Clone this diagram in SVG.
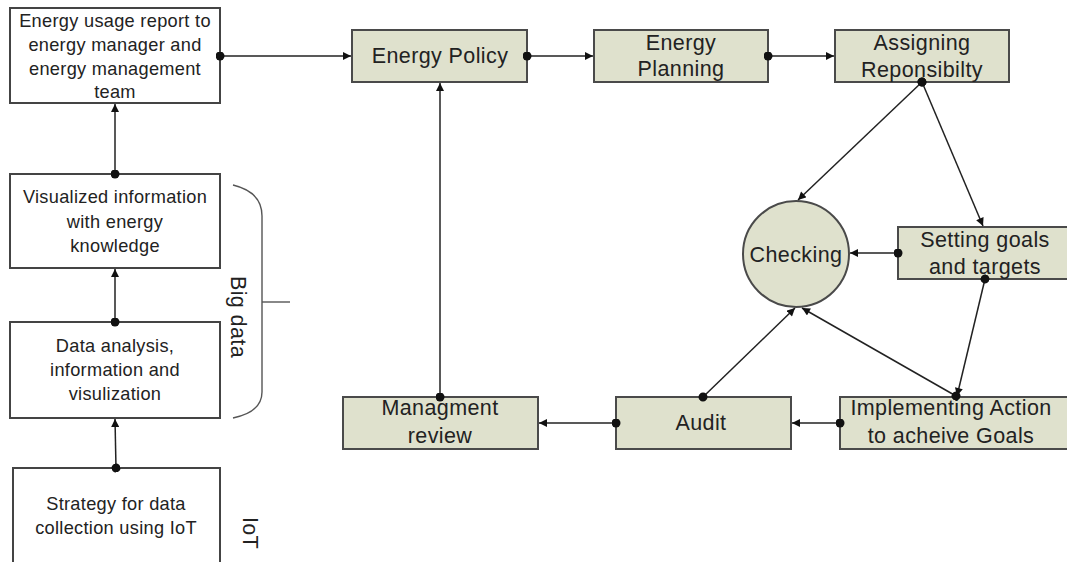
<svg xmlns="http://www.w3.org/2000/svg" width="1067" height="562" viewBox="0 0 1067 562">
  <defs>
    <style>
      .wbox { fill: #ffffff; stroke: #444444; stroke-width: 2; }
      .gbox { fill: #dfe1cd; stroke: #4a4a4a; stroke-width: 2; }
      .lt { font-family: "Liberation Sans", Arial, sans-serif; font-size: 18.2px; letter-spacing: 0.3px; fill: #222222; text-anchor: middle; }
      .gt { font-family: "Liberation Sans", Arial, sans-serif; font-size: 21.5px; letter-spacing: 0.4px; fill: #222222; text-anchor: middle; }
      .conn { fill: none; stroke: #222222; stroke-width: 1.5; marker-start: url(#dot); marker-end: url(#arrow); }
      .brace { fill: none; stroke: #555555; stroke-width: 1.4; }
    </style>
    <marker id="arrow" viewBox="0 0 10 10" refX="10" refY="5" markerWidth="9" markerHeight="8" markerUnits="userSpaceOnUse" orient="auto">
      <path d="M0,0 L10,5 L0,10 Z" fill="#111111"/>
    </marker>
    <marker id="dot" viewBox="0 0 10 10" refX="5" refY="5" markerWidth="9" markerHeight="9" markerUnits="userSpaceOnUse" orient="auto">
      <circle cx="5" cy="5" r="5" fill="#111111"/>
    </marker>
  </defs>

  <g id="node-report">
    <rect class="wbox" x="10" y="8" width="210" height="95"/>
    <text class="lt" x="115" y="27">Energy usage report to</text>
    <text class="lt" x="115" y="51">energy manager and</text>
    <text class="lt" x="115" y="75">energy management</text>
    <text class="lt" x="115" y="98">team</text>
  </g>
  <g id="node-visualized">
    <rect class="wbox" x="10" y="174" width="210" height="94"/>
    <text class="lt" x="115" y="203">Visualized information</text>
    <text class="lt" x="115" y="228">with energy</text>
    <text class="lt" x="115" y="252">knowledge</text>
  </g>
  <g id="node-analysis">
    <rect class="wbox" x="10" y="322" width="210" height="96"/>
    <text class="lt" x="115" y="352">Data analysis,</text>
    <text class="lt" x="115" y="376">information and</text>
    <text class="lt" x="115" y="400">visulization</text>
  </g>
  <g id="node-strategy">
    <rect class="wbox" x="13" y="468" width="207" height="104"/>
    <text class="lt" x="116" y="510">Strategy for data</text>
    <text class="lt" x="116" y="534">collection using IoT</text>
  </g>

  <g id="label-bigdata">
    <path class="brace" d="M233,185 Q262,192 262,216 L262,392 Q262,412 233,418"/>
    <path class="brace" d="M262,302 L290,302"/>
    <text class="gt" transform="translate(231,317) rotate(90)">Big data</text>
  </g>
  <g id="label-iot">
    <text class="gt" transform="translate(243,533) rotate(90)">IoT</text>
  </g>

  <g id="node-policy">
    <rect class="gbox" x="352" y="30" width="175" height="52"/>
    <text class="gt" x="440" y="63">Energy Policy</text>
  </g>
  <g id="node-planning">
    <rect class="gbox" x="594" y="30" width="174" height="52"/>
    <text class="gt" x="681" y="50">Energy</text>
    <text class="gt" x="681" y="76">Planning</text>
  </g>
  <g id="node-assigning">
    <rect class="gbox" x="835" y="30" width="174" height="52"/>
    <text class="gt" x="922" y="50">Assigning</text>
    <text class="gt" x="922" y="77">Reponsibilty</text>
  </g>
  <g id="node-checking">
    <circle class="gbox" cx="796" cy="254" r="53"/>
    <text class="gt" x="796" y="262">Checking</text>
  </g>
  <g id="node-goals">
    <rect class="gbox" x="898" y="227" width="180" height="52"/>
    <text class="gt" x="985" y="247">Setting goals</text>
    <text class="gt" x="985" y="274">and targets</text>
  </g>
  <g id="node-implementing">
    <rect class="gbox" x="840" y="397" width="240" height="52"/>
    <text class="gt" x="951" y="415">Implementing Action</text>
    <text class="gt" x="951" y="443">to acheive Goals</text>
  </g>
  <g id="node-audit">
    <rect class="gbox" x="616" y="397" width="175" height="52"/>
    <text class="gt" x="701" y="430">Audit</text>
  </g>
  <g id="node-review">
    <rect class="gbox" x="343" y="397" width="195" height="52"/>
    <text class="gt" x="440" y="415">Managment</text>
    <text class="gt" x="440" y="443">review</text>
  </g>

  <g id="connectors">
    <path class="conn" d="M115,174 L115,104"/>
    <path class="conn" d="M115,322 L115,269"/>
    <path class="conn" d="M116,468 L115,419"/>
    <path class="conn" d="M220,56 L351,56"/>
    <path class="conn" d="M527,56 L593,56"/>
    <path class="conn" d="M768,56 L834,56"/>
    <path class="conn" d="M922,82 L798,200"/>
    <path class="conn" d="M922,82 L983,226"/>
    <path class="conn" d="M898,253 L850,253"/>
    <path class="conn" d="M985,279 L957,396"/>
    <path class="conn" d="M956,396 L802,308"/>
    <path class="conn" d="M703,397 L795,308"/>
    <path class="conn" d="M840,423 L792,423"/>
    <path class="conn" d="M616,423 L539,423"/>
    <path class="conn" d="M440,397 L440,83"/>
  </g>
</svg>
